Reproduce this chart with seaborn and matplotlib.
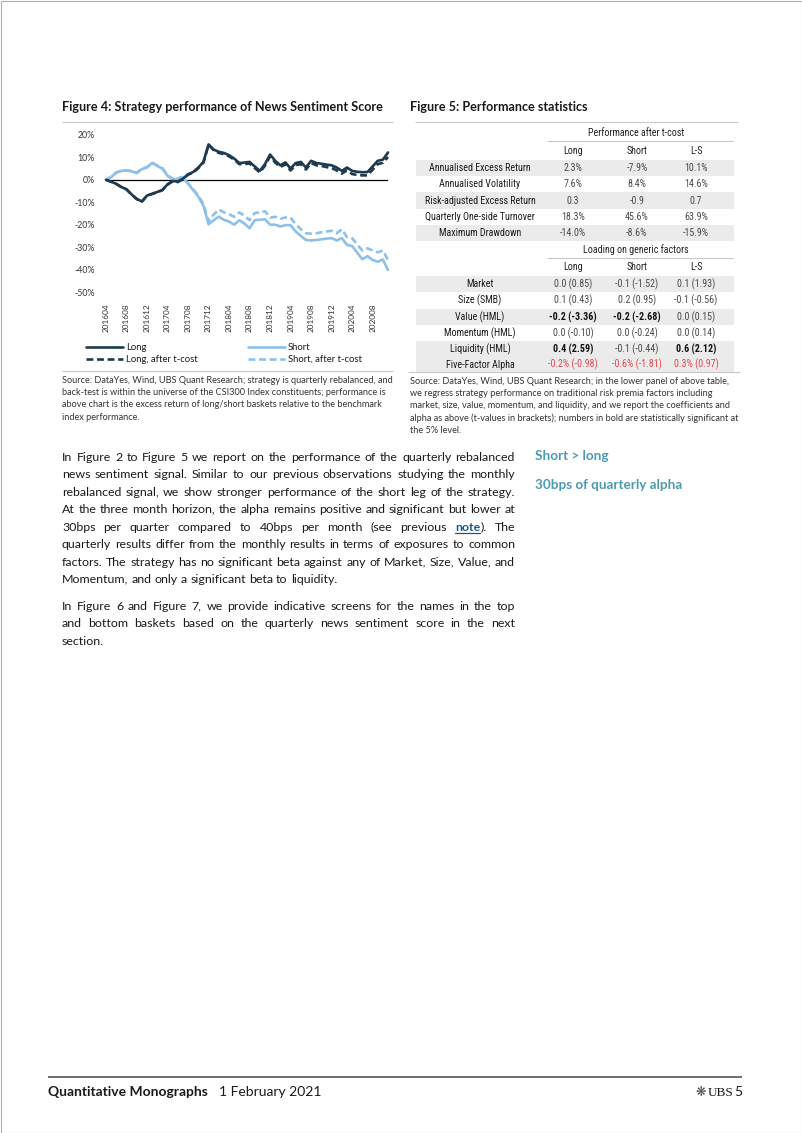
import numpy as np
import pandas as pd
import matplotlib
matplotlib.use("Agg")
import matplotlib.pyplot as plt
import seaborn as sns
from matplotlib.lines import Line2D
from matplotlib.patches import Rectangle

# ---------------- data ----------------
tick_labels = ["201604", "201608", "201612", "201704", "201708", "201712", "201804",
               "201808", "201812", "201904", "201908", "201912", "202004", "202008"]

long_excess = [0, -0.8, -1.8, -3.2, -4.2, -6.5, -8.5, -9.6, -7.0, -6.2, -5.4, -4.5, -2.0, -0.5,
               -0.8, 0.5, 2.5, 3.5, 5.5, 8.0, 15.8, 13.5, 12.5, 12.0, 11.0, 9.5, 7.5, 7.7,
               8.0, 6.0, 4.0, 7.0, 11.3, 8.5, 6.5, 7.8, 5.0, 7.5, 8.0, 5.5, 8.5, 7.5,
               7.2, 6.8, 6.5, 5.5, 4.0, 5.5, 4.0, 3.6, 3.4, 3.5, 6.0, 8.5, 9.0, 12.2]
long_after_tcost = [0, -0.8, -1.8, -3.2, -4.3, -6.6, -8.6, -9.7, -7.1, -6.3, -5.5, -4.6, -2.1, -0.7,
                    -1.0, 0.3, 2.3, 3.2, 5.2, 7.7, 15.6, 13.2, 12.0, 11.5, 10.5, 9.0, 7.0, 7.0,
                    7.3, 5.3, 3.3, 6.3, 10.5, 7.7, 5.7, 7.0, 4.2, 6.6, 7.0, 4.6, 7.5, 6.5,
                    6.2, 5.7, 5.3, 4.2, 2.8, 4.2, 2.6, 2.2, 2.0, 2.0, 4.5, 7.0, 7.6, 10.2]
short_excess = [0, 1.2, 3.2, 4.0, 4.2, 3.8, 3.0, 4.8, 5.5, 7.5, 6.2, 5.0, 1.8, 0.2,
                0.5, 1.0, -1.8, -4.5, -7.5, -11.5, -19.8, -18.0, -16.4, -17.8, -18.6, -20.0, -18.0, -19.5,
                -21.6, -18.0, -17.8, -17.6, -20.0, -20.0, -20.8, -20.2, -20.2, -23.0, -25.0, -26.8, -27.0, -26.8,
                -26.5, -26.2, -26.0, -27.0, -26.0, -29.0, -29.5, -32.5, -35.4, -34.0, -35.7, -36.5, -35.5, -40.2]
short_after_tcost = [0, 1.3, 3.3, 4.1, 4.3, 3.9, 3.2, 5.0, 5.7, 7.7, 6.4, 5.2, 2.0, 0.5,
                     0.8, 1.3, -1.5, -4.2, -7.0, -10.8, -18.5, -15.5, -13.2, -14.5, -15.3, -16.5, -14.5, -16.0,
                     -18.0, -14.8, -14.5, -14.0, -16.8, -16.5, -17.3, -16.8, -16.8, -19.8, -22.0, -23.8, -24.0, -23.8,
                     -23.4, -23.0, -22.7, -23.8, -22.0, -25.5, -26.0, -28.8, -31.5, -30.5, -31.5, -32.3, -31.5, -35.7]

series_names = ["Long", "Long, after t-cost", "Short", "Short, after t-cost"]

perf_rows = ["Annualised Excess Return", "Annualised Volatility", "Risk-adjusted Excess Return",
             "Quarterly One-side Turnover", "Maximum Drawdown"]
perf_long = ["2.3%", "7.6%", "0.3", "18.3%", "-14.0%"]
perf_short = ["-7.9%", "8.4%", "-0.9", "45.6%", "-8.6%"]
perf_ls = ["10.1%", "14.6%", "0.7", "63.9%", "-15.9%"]

factor_rows = ["Market", "Size (SMB)", "Value (HML)", "Momentum (HML)", "Liquidity (HML)", "Five-Factor Alpha"]
factor_long = ["0.0 (0.85)", "0.1 (0.43)", "-0.2 (-3.36)", "0.0 (-0.10)", "0.4 (2.59)", "-0.2% (-0.98)"]
factor_short = ["-0.1 (-1.52)", "0.2 (0.95)", "-0.2 (-2.68)", "0.0 (-0.24)", "-0.1 (-0.44)", "-0.6% (-1.81)"]
factor_ls = ["0.1 (1.93)", "-0.1 (-0.56)", "0.0 (0.15)", "0.0 (0.14)", "0.6 (2.12)", "0.3% (0.97)"]
factor_bold = {(2, 0), (2, 1), (4, 0), (4, 2)}
col_heads = ["Long", "Short", "L-S"]

# ---------------- style ----------------
sns.set_theme(style="white")
plt.rcParams["font.family"] = ["Lato", "DejaVu Sans"]

C_LONG = "#1e3a4f"
C_SHORT = "#8dc1ea"
C_TXT = "#1a1a1a"
C_VAL = "#4a4a4a"
C_RULE = "#c8c8c8"
C_BAND = "#ebebeb"
C_RED = "#e2474d"
C_LINK = "#1b5a88"
C_NOTE = "#4b9ab2"

W, H = 802, 1133
fig = plt.figure(figsize=(W / 100, H / 100), dpi=100)
page = fig.add_axes([0, 0, 1, 1])
page.set_xlim(0, W)
page.set_ylim(H, 0)
page.axis("off")
R = fig.canvas.get_renderer()


def width(s, size, **kw):
    t = page.text(0, 0, s, fontsize=size, **kw)
    w = t.get_window_extent(R).width
    t.remove()
    return w


def advance(s, size, **kw):
    # pen advance of s (independent of ink side bearings)
    return width("I" + s + "I", size, **kw) - width("II", size, **kw)


def fit(s, target, **kw):
    return 10.0 * target / width(s, 10.0, **kw)


def hline(x0, x1, y, color=C_RULE, lw=0.8):
    page.plot([x0, x1], [y, y], color=color, lw=lw, solid_capstyle="butt")


def put_word(x, base, s, **kw):
    """Place a word so that its baseline lands exactly on pixel row `base`."""
    t = page.text(x, base, s, va="baseline", ha="left", **kw)
    try:
        from matplotlib.backends.backend_agg import get_hinting_flag
        font = R._prepare_font(t.get_fontproperties())
        font.set_text(s, 0, flags=get_hinting_flag())
        _, h26 = font.get_width_height()
        d26 = font.get_descent()
        t.set_y(base + h26 // 64 - (h26 - d26) // 64 - d26 / 64.0)
    except Exception:
        pass
    return t


# page frame
page.add_patch(Rectangle((0.5, 0.5), W - 1, H - 1, fill=False, ec="#b0b0b0", lw=0.8))

# ---------------- titles ----------------
title_fs = fit("Figure 4: Strategy performance of News Sentiment Score", 321, fontweight="bold")
page.text(62, 111, "Figure 4: Strategy performance of News Sentiment Score", fontsize=title_fs,
          fontweight="bold", color=C_TXT, va="baseline")
page.text(410, 111, "Figure 5: Performance statistics", fontsize=title_fs,
          fontweight="bold", color=C_TXT, va="baseline")
hline(62, 393, 122)
hline(415, 738, 122)

# ---------------- chart ----------------
n = len(long_excess)
months = np.arange(n)
df = pd.DataFrame({
    "month": np.tile(months, 4),
    "value": np.concatenate([long_excess, long_after_tcost, short_excess, short_after_tcost]),
    "series": np.repeat(series_names, n),
})

ax = fig.add_axes([106 / W, 1 - 292 / H, 282 / W, 157 / H])
ax.patch.set_alpha(0)
palette = {"Long": C_LONG, "Long, after t-cost": C_LONG, "Short": C_SHORT, "Short, after t-cost": C_SHORT}
dashes = {"Long": "", "Long, after t-cost": (2.6, 1.4), "Short": "", "Short, after t-cost": (2.6, 1.4)}
sns.lineplot(data=df, x="month", y="value", hue="series", style="series",
             hue_order=["Short, after t-cost", "Short", "Long, after t-cost", "Long"],
             style_order=["Short, after t-cost", "Short", "Long, after t-cost", "Long"],
             palette=palette, dashes=dashes, linewidth=1.9, legend=False, ax=ax)
for ln in ax.lines:
    ln.set_clip_on(False)
ax.axhline(0, color="black", lw=0.9, zorder=0.5)
ax.set_xlim(0, n - 1)
ax.set_ylim(-50, 20)
for sp in ax.spines.values():
    sp.set_visible(False)
tick_fs = fit("201604", 29)
ax.set_xticks(np.arange(0, 4 * len(tick_labels), 4))
ax.set_xticklabels(tick_labels, rotation=90, fontsize=tick_fs, color="#333333")
yt = np.arange(-50, 21, 10)
ax.set_yticks(yt)
ax.set_yticklabels([f"{v}%" for v in yt], fontsize=tick_fs * 1.05, color="#333333")
ax.tick_params(axis="x", length=0, pad=8)
ax.tick_params(axis="y", length=0, pad=8)
ax.set_xlabel("")
ax.set_ylabel("")
ax.grid(False)

leg_fs = fit("Long, after t-cost", 72)
handles = [Line2D([], [], color=palette[s], lw=1.9,
                  ls="-" if dashes[s] == "" else (0, dashes[s])) for s in series_names]
em = leg_fs * 100 / 72
fig.legend(handles, series_names, loc="upper left",
           bbox_to_anchor=(86 / W, 1 - 343 / H), ncol=2, frameon=False,
           fontsize=leg_fs, handlelength=37 / em, handletextpad=3 / em,
           columnspacing=50 / em, labelspacing=0.32, borderpad=0, borderaxespad=0,
           labelcolor=C_TXT)

hline(62, 393, 371)
hline(408, 740, 372)

# ---------------- sources ----------------
src_fs = fit("Source: DataYes, Wind, UBS Quant Research; strategy is quarterly rebalanced, and", 330)
src_left = ["Source: DataYes, Wind, UBS Quant Research; strategy is quarterly rebalanced, and",
            "back-test is within the universe of the CSI300 Index constituents; performance is",
            "above chart is the excess return of long/short baskets relative to the benchmark",
            "index performance."]
src_right = ["Source: DataYes, Wind, UBS Quant Research; in the lower panel of above table,",
             "we regress strategy performance on traditional risk premia factors including",
             "market, size, value, momentum, and liquidity, and we report the coefficients and",
             "alpha as above (t-values in brackets); numbers in bold are statistically significant at",
             "the 5% level."]
for i, s in enumerate(src_left):
    page.text(62, 383 + 12.2 * i, s, fontsize=src_fs, color="#333333", va="baseline")
for i, s in enumerate(src_right):
    page.text(410, 384 + 12.2 * i, s, fontsize=src_fs, color="#333333", va="baseline")

# ---------------- table ----------------
tfam = ["Roboto Condensed", "Roboto"]
t_fs = fit("Quarterly One-side Turnover", 110, family=tfam)
X_LAB, X_COLS = 480, [573, 637, 696]
BX0, BX1 = 416, 734


def tcell(x, y, s, bold=False, color=C_VAL):
    page.text(x, y, s, fontsize=t_fs, family=tfam, ha="center", va="center",
              fontweight="bold" if bold else "normal", color=color)


def band(yc, h=16.2):
    page.add_patch(Rectangle((BX0, yc - h / 2), BX1 - BX0, h, color=C_BAND, lw=0, zorder=0))


tcell(636, 133, "Performance after t-cost", color="#222222")
hline(547, 733, 141)
for x, s in zip(X_COLS, col_heads):
    tcell(x, 151, s, color="#222222")
perf_y = [168, 184.3, 200.5, 216.8, 233]
for i, (lab, a, b, c) in enumerate(zip(perf_rows, perf_long, perf_short, perf_ls)):
    if i % 2 == 0:
        band(perf_y[i])
    tcell(X_LAB, perf_y[i], lab, color=C_TXT)
    for x, v in zip(X_COLS, (a, b, c)):
        tcell(x, perf_y[i], v)

tcell(636, 250, "Loading on generic factors", color="#222222")
hline(547, 733, 258)
for x, s in zip(X_COLS, col_heads):
    tcell(x, 267, s, color="#222222")
fac_y = [284, 300.5, 317, 333.2, 349.5, 364.5]
for i, lab in enumerate(factor_rows):
    vals = (factor_long[i], factor_short[i], factor_ls[i])
    if i in (0, 2, 4):
        band(fac_y[i])
    if i == 5:
        band(fac_y[i], h=14.5)
    tcell(X_LAB, fac_y[i], lab, color=C_TXT)
    for j, (x, v) in enumerate(zip(X_COLS, vals)):
        tcell(x, fac_y[i], v, bold=(i, j) in factor_bold,
              color=C_RED if i == 5 else ("#111111" if (i, j) in factor_bold else C_VAL))

# ---------------- body text (justified, word by word) ----------------
paras = [
    ["In Figure 2 to Figure 5 we report on the performance of the quarterly rebalanced",
     "news sentiment signal. Similar to our previous observations studying the monthly",
     "rebalanced signal, we show stronger performance of the short leg of the strategy.",
     "At the three month horizon, the alpha remains positive and significant but lower at",
     "30bps per quarter compared to 40bps per month (see previous {note}). The",
     "quarterly results differ from the monthly results in terms of exposures to common",
     "factors. The strategy has no significant beta against any of Market, Size, Value, and",
     "Momentum, and only a significant beta to liquidity."],
    ["In Figure 6 and Figure 7, we provide indicative screens for the names in the top",
     "and bottom baskets based on the quarterly news sentiment score in the next",
     "section."],
]
body_fs = fit("factors. The strategy has no significant beta against any of Market, Size, Value, and", 450)
BXL, BXR = 62, 515


def runs_of(word):
    if "{" in word:
        pre, rest = word.split("{")
        mid, post = rest.split("}")
        out = []
        if pre:
            out.append((pre, False))
        out.append((mid, True))
        if post:
            out.append((post, False))
        return out
    return [(word, False)]


def run_kw(link):
    return dict(fontweight="bold" if link else "normal",
                color=C_LINK if link else C_TXT)


space_w = advance(" ", body_fs)
baselines = [[461 + 17.45 * i for i in range(8)], [610 + 17.45 * i for i in range(3)]]
for para, bls in zip(paras, baselines):
    for li, line in enumerate(para):
        words = line.split(" ")
        wr = [runs_of(w) for w in words]
        ww = [sum(advance(s, body_fs, **run_kw(lk)) for s, lk in r) for r in wr]
        last = li == len(para) - 1
        gap = space_w if last else (BXR - BXL - sum(ww)) / (len(words) - 1)
        x = BXL
        base = round(bls[li])
        for r, w in zip(wr, ww):
            cx = x
            for s, lk in r:
                put_word(cx, base, s, fontsize=body_fs, **run_kw(lk))
                sw = advance(s, body_fs, **run_kw(lk))
                if lk:
                    page.plot([cx, cx + sw], [base + 2.2, base + 2.2], color=C_LINK, lw=0.9)
                cx += sw
            x += w + gap

note_fs = fit("30bps of quarterly alpha", 147, fontweight="bold")
page.text(535, 460, "Short > long", fontsize=note_fs, fontweight="bold", color=C_NOTE, va="baseline")
page.text(535, 489, "30bps of quarterly alpha", fontsize=note_fs, fontweight="bold", color=C_NOTE, va="baseline")

# ---------------- footer ----------------
hline(48, 742, 1077, color="#555555", lw=1.2)
f_fs = fit("Quantitative Monographs", 160, fontweight="bold")
page.text(48, 1096, "Quantitative Monographs", fontsize=f_fs, fontweight="bold", color=C_TXT, va="baseline")
page.text(219, 1096, "1 February 2021", fontsize=f_fs, color=C_TXT, va="baseline")
page.text(742, 1096, "5", fontsize=f_fs, color=C_TXT, va="baseline", ha="right")
page.text(733, 1096, "UBS", fontsize=f_fs * 0.95, color=C_TXT, va="baseline", ha="right", family="Liberation Serif")
page.text(706, 1096, "\u274b", fontsize=f_fs * 0.9, color="#444444", va="baseline", ha="right", family="DejaVu Sans")

fig.savefig("out.png", dpi=100)
